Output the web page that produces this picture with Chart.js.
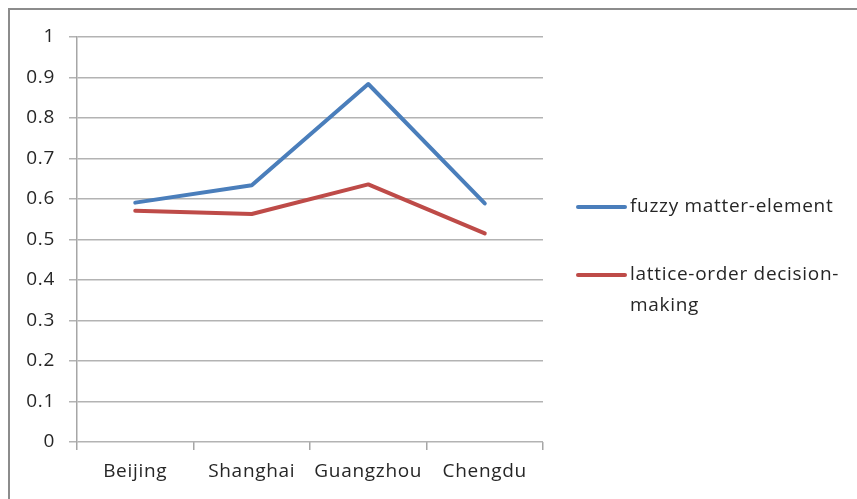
<!DOCTYPE html>
<html>
<head>
<meta charset="utf-8">
<script src="https://cdn.jsdelivr.net/npm/chart.js@4/dist/chart.umd.min.js"></script>
<style>
  html, body { margin: 0; padding: 0; background: #fff; }
  #wrap { position: relative; width: 857px; height: 499px; overflow: hidden; }
  #frame { position: absolute; left: 8px; top: 8px; width: 900px; height: 600px;
           border-left: 2px solid #8c8c8c; border-top: 2px solid #8c8c8c; }
  canvas { position: absolute; left: 0; top: 0; }
</style>
</head>
<body>
<div id="wrap">
  <div id="frame"></div>
  <canvas id="c" width="857" height="499"></canvas>
</div>
<script>
const cities = ['Beijing', 'Shanghai', 'Guangzhou', 'Chengdu'];
const fuzzyMatterElement = [0.591, 0.634, 0.884, 0.589];
const latticeOrderDecision = [0.571, 0.563, 0.636, 0.515];
const seriesNames = ['fuzzy matter-element', 'lattice-order decision-making'];
const seriesColors = ['#4a7ebb', '#be4b48'];

const FONT = '"Open Sans", "Noto Sans", sans-serif';
const FONT_SIZE = 19;
const SPACING = '0.7px';
const TEXT = '#262626';

// Slightly wider letter spacing for all canvas text
const spacing = {
  id: 'spacing',
  beforeDraw(chart) { chart.ctx.letterSpacing = SPACING; }
};

// Legend drawn at the right, wrapping long names at hyphens/spaces
const sideLegend = {
  id: 'sideLegend',
  afterDraw(chart) {
    const ctx = chart.ctx;
    const x0 = 578, x1 = 625, tx = 630, maxW = 222;
    const rows = [207, 275];
    ctx.save();
    ctx.letterSpacing = SPACING;
    ctx.font = FONT_SIZE + 'px ' + FONT;
    ctx.textBaseline = 'middle';
    ctx.fillStyle = TEXT;
    chart.data.datasets.forEach((ds, i) => {
      const y = rows[i];
      ctx.strokeStyle = ds.borderColor;
      ctx.lineWidth = 4;
      ctx.lineCap = 'round';
      ctx.beginPath(); ctx.moveTo(x0, y); ctx.lineTo(x1, y); ctx.stroke();
      const tokens = ds.label.match(/[^\s-]+-?\s*|\s+/g);
      const lines = [];
      let cur = '';
      tokens.forEach(t => {
        if (cur && ctx.measureText((cur + t).trimEnd()).width > maxW) {
          lines.push(cur.trimEnd()); cur = t;
        } else cur += t;
      });
      if (cur) lines.push(cur.trimEnd());
      lines.forEach((ln, k) => ctx.fillText(ln, tx, y + k * 31));
    });
    ctx.restore();
  }
};

new Chart(document.getElementById('c'), {
  type: 'line',
  data: {
    labels: cities,
    datasets: [
      { label: seriesNames[0], data: fuzzyMatterElement, borderColor: seriesColors[0] },
      { label: seriesNames[1], data: latticeOrderDecision, borderColor: seriesColors[1] }
    ]
  },
  options: {
    responsive: false,
    animation: false,
    devicePixelRatio: 1,
    layout: { padding: { left: 0, right: 314, top: 37, bottom: 0 } },
    elements: {
      line: { borderWidth: 4, tension: 0, borderCapStyle: 'round', borderJoinStyle: 'round', fill: false },
      point: { radius: 0, hoverRadius: 0 }
    },
    plugins: { legend: { display: false }, tooltip: { enabled: false } },
    scales: {
      x: {
        offset: true,
        grid: { offset: true, drawOnChartArea: false, drawTicks: true, tickLength: 8, color: '#a6a6a6', lineWidth: 1.5 },
        border: { display: false },
        ticks: { font: { family: FONT, size: FONT_SIZE }, color: TEXT, padding: 10, maxRotation: 0 },
        afterFit(s) { s.height = 57; }
      },
      y: {
        min: 0, max: 1,
        grid: { color: '#b3b3b3', lineWidth: 1.5, tickLength: 8 },
        border: { display: true, color: '#a6a6a6', width: 1.5 },
        ticks: { stepSize: 0.1, font: { family: FONT, size: FONT_SIZE }, color: TEXT, padding: 14,
                 callback: v => Math.round(v * 10) / 10 },
        afterFit(s) { s.width = 77; }
      }
    }
  },
  plugins: [spacing, sideLegend]
});
</script>
</body>
</html>
